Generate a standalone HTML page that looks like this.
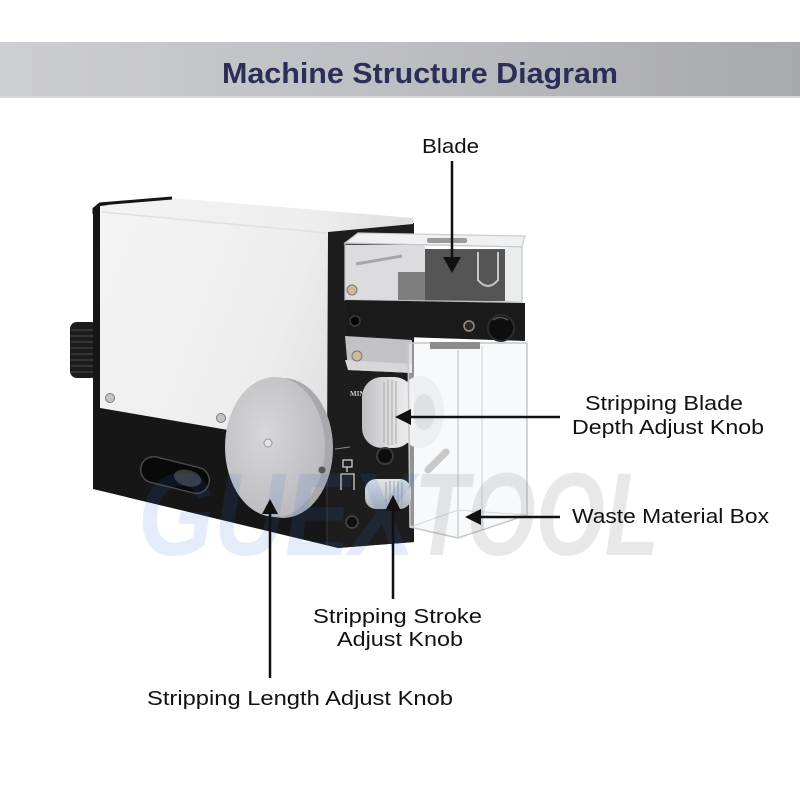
<!DOCTYPE html>
<html><head><meta charset="utf-8"><style>
html,body{margin:0;padding:0;background:#fff;}
svg{display:block}
</style></head><body>
<svg width="800" height="800" viewBox="0 0 800 800" xmlns="http://www.w3.org/2000/svg">
<defs>
<linearGradient id="hdr" x1="0" x2="1" y1="0" y2="0">
<stop offset="0" stop-color="#cdced1"/><stop offset="0.5" stop-color="#bdbec2"/><stop offset="1" stop-color="#a8a9ad"/>
</linearGradient>
<linearGradient id="face" x1="0" y1="0" x2="1" y2="0.3">
<stop offset="0" stop-color="#f4f4f4"/><stop offset="0.65" stop-color="#ededed"/><stop offset="1" stop-color="#dcdcde"/>
</linearGradient>
<radialGradient id="disc" cx="0.4" cy="0.4" r="0.75">
<stop offset="0" stop-color="#d7d7d9"/><stop offset="1" stop-color="#b6b6ba"/>
</radialGradient>
<linearGradient id="micro" x1="0" x2="1" y1="0" y2="0">
<stop offset="0" stop-color="#bfbfc2"/><stop offset="0.5" stop-color="#dcdcde"/><stop offset="1" stop-color="#f0f0f0"/>
</linearGradient>
<linearGradient id="knob2" x1="0" x2="0" y1="0" y2="1">
<stop offset="0" stop-color="#e4e7ea"/><stop offset="1" stop-color="#aeb3b9"/>
</linearGradient>
</defs>

<rect width="800" height="800" fill="#fff"/>

<!-- header -->
<rect x="0" y="42" width="800" height="56" fill="url(#hdr)"/>
<rect x="0" y="96" width="800" height="2" fill="#d6d7d9"/>
<text x="420" y="83" font-family="Liberation Sans, sans-serif" font-weight="bold" font-size="29" fill="#2b2e57" text-anchor="middle" textLength="396" lengthAdjust="spacingAndGlyphs">Machine Structure Diagram</text>

<!-- left side knob -->
<rect x="70" y="322" width="28" height="56" rx="7" fill="#1c1c1c"/>
<g stroke="#3c3c3c" stroke-width="1.5">
<line x1="71" y1="330" x2="96" y2="330"/><line x1="71" y1="336" x2="96" y2="336"/>
<line x1="71" y1="342" x2="96" y2="342"/><line x1="71" y1="348" x2="96" y2="348"/>
<line x1="71" y1="354" x2="96" y2="354"/><line x1="71" y1="360" x2="96" y2="360"/>
<line x1="71" y1="366" x2="96" y2="366"/><line x1="71" y1="372" x2="96" y2="372"/>
</g>

<!-- machine silhouette -->
<polygon points="93,210 100,204 328,232 414,223 414,542 338,548 93,489" fill="#161616"/>
<polygon points="327,232 414,223 414,542 338,548 327,545" fill="#1d1d1d"/>
<line x1="327" y1="232" x2="327" y2="545" stroke="#2e2e2e" stroke-width="1.5"/>

<!-- white body (top + side face) -->
<polygon points="100,206 172,198 413,218 413,224 328,232 327,447 100,408" fill="url(#face)"/>
<line x1="102" y1="212" x2="327" y2="233" stroke="#e0e0e2" stroke-width="1.5"/>
<polyline points="94,214 94,209 100,204 172,198" fill="none" stroke="#151515" stroke-width="3"/>

<!-- screws -->
<circle cx="110" cy="398" r="4.5" fill="#c4c4c4" stroke="#7a7a7a"/>
<circle cx="221" cy="418" r="4.5" fill="#c4c4c4" stroke="#7a7a7a"/>

<!-- slot -->
<g transform="rotate(14 175 475)">
<rect x="140" y="462" width="70" height="26" rx="13" fill="#090909" stroke="#4a4a4a" stroke-width="1.5"/>
<ellipse cx="188" cy="475" rx="14" ry="8" fill="#3a3a3a"/>
</g>

<!-- disc -->
<ellipse cx="283" cy="448" rx="50" ry="70" fill="#a9a9ad"/>
<ellipse cx="275" cy="447" rx="50" ry="70" fill="url(#disc)"/>
<circle cx="268" cy="443" r="4" fill="#e2e2e2" stroke="#999"/>
<circle cx="322" cy="470" r="3.5" fill="#555"/>

<!-- front panel details -->
<text x="350" y="396" font-family="Liberation Serif, serif" font-size="7" fill="#cfcfcf" font-weight="bold">MIN</text>
<line x1="335" y1="449" x2="350" y2="447" stroke="#888" stroke-width="1"/>
<g stroke="#cfcfcf" stroke-width="1.3" fill="none">
<rect x="343" y="460" width="9" height="7"/>
<line x1="347" y1="467" x2="347" y2="472"/>
<path d="M341 490 V474 H354 V490"/>
</g>
<circle cx="352" cy="522" r="6" fill="#111" stroke="#4a4a4a" stroke-width="1.5"/>

<!-- silver bracket below bar -->
<polygon points="345,336 412,340 412,373 348,370" fill="#c2c2c4"/>
<polygon points="345,360 412,364 412,373 348,370" fill="#d7d7d9"/>
<circle cx="357" cy="356" r="5" fill="#cdb99a" stroke="#777"/>

<!-- micrometer -->
<ellipse cx="420" cy="412" rx="24" ry="36" fill="#e8e8e8"/>
<ellipse cx="424" cy="412" rx="11" ry="18" fill="#c8c8ca"/>
<rect x="362" y="377" width="52" height="71" rx="20" fill="url(#micro)"/>
<g stroke="#a8a8aa" stroke-width="1">
<line x1="384" y1="382" x2="384" y2="443"/><line x1="388" y1="380" x2="388" y2="445"/>
<line x1="392" y1="380" x2="392" y2="445"/><line x1="396" y1="381" x2="396" y2="444"/>
</g>
<circle cx="385" cy="456" r="8" fill="#0d0d0d" stroke="#3a3a3a" stroke-width="2"/>

<!-- stroke knob -->
<rect x="365" y="479" width="46" height="30" rx="11" fill="url(#knob2)"/>
<g stroke="#9aa0a6" stroke-width="1">
<line x1="386" y1="482" x2="386" y2="506"/><line x1="390" y1="481" x2="390" y2="507"/>
<line x1="394" y1="481" x2="394" y2="507"/><line x1="398" y1="481" x2="398" y2="507"/>
<line x1="402" y1="482" x2="402" y2="506"/>
</g>

<!-- upper clear box internals -->
<rect x="345" y="245" width="80" height="56" fill="#d3d3d5"/>
<line x1="356" y1="264" x2="402" y2="256" stroke="#8e8e8e" stroke-width="3"/>
<rect x="398" y="272" width="30" height="29" fill="#5a5a5c"/>
<rect x="425" y="249" width="80" height="52" fill="#262626"/>
<path d="M478 252 V280 Q488 292 498 280 V252" fill="none" stroke="#b8b8b8" stroke-width="2"/>
<rect x="505" y="248" width="17" height="53" fill="#e4e6e8"/>
<polygon points="345,243 358,233 525,236 522,247" fill="#eef0f2" stroke="#c8cbd0" stroke-width="1.2"/>
<polygon points="345,243 522,247 522,302 345,300" fill="#ffffff" fill-opacity="0.22" stroke="#c2c5ca" stroke-width="1.2"/>
<rect x="427" y="238" width="40" height="5" rx="2" fill="#9a9a9a"/>
<circle cx="352" cy="290" r="5" fill="#cdb99a" stroke="#777"/>

<!-- black bar -->
<polygon points="345,300 525,303 525,341 345,335" fill="#1a1a1a"/>
<circle cx="355" cy="321" r="5" fill="#050505" stroke="#3a3a3a" stroke-width="1.5"/>
<circle cx="469" cy="326" r="5" fill="#2a2a2a" stroke="#9a8f80" stroke-width="1.5"/>
<circle cx="501" cy="328" r="13" fill="#0e0e0e" stroke="#2c2c2c" stroke-width="2"/>
<path d="M493 320 Q500 315 508 320" fill="none" stroke="#555" stroke-width="1.5"/>

<!-- waste box -->
<polygon points="408,343 527,343 527,515 458,538 410,527" fill="#f2f4f6" fill-opacity="0.55" stroke="#c3c7cc" stroke-width="1.5"/>
<rect x="430" y="342" width="50" height="7" fill="#8c8c8c"/>
<line x1="458" y1="350" x2="458" y2="538" stroke="#cfd3d8" stroke-width="1.5"/>
<line x1="482" y1="346" x2="482" y2="530" stroke="#d4d7db" stroke-width="1.2"/>
<line x1="410" y1="527" x2="458" y2="510" stroke="#d4d7db" stroke-width="1"/>
<line x1="458" y1="510" x2="527" y2="515" stroke="#d4d7db" stroke-width="1"/>
<path d="M428 470 L446 452" stroke="#c8c8ca" stroke-width="7" stroke-linecap="round"/>

<!-- watermark -->
<text x="138" y="555" font-family="Liberation Sans, sans-serif" font-weight="bold" font-style="italic" font-size="118" fill="#2f6fd6" fill-opacity="0.13" textLength="277" lengthAdjust="spacingAndGlyphs">GUEX</text>
<text x="414" y="555" font-family="Liberation Sans, sans-serif" font-weight="bold" font-style="italic" font-size="118" fill="#808080" fill-opacity="0.18" textLength="245" lengthAdjust="spacingAndGlyphs">TOOL</text>

<!-- connectors -->
<g stroke="#111" stroke-width="2.5">
<line x1="452" y1="161" x2="452" y2="259"/>
<line x1="409" y1="417" x2="560" y2="417"/>
<line x1="479" y1="517" x2="560" y2="517"/>
<line x1="393" y1="509" x2="393" y2="599"/>
<line x1="270" y1="512" x2="270" y2="678"/>
</g>
<g fill="#111">
<polygon points="443,257 461,257 452,273"/>
<polygon points="395,417 411,409 411,425"/>
<polygon points="465,517 481,509 481,525"/>
<polygon points="393,495 385,511 401,511"/>
<polygon points="270,499 262,514 278,514"/>
</g>

<!-- labels -->
<g font-family="Liberation Sans, sans-serif" font-size="20" fill="#111">
<text x="422" y="153" textLength="57" lengthAdjust="spacingAndGlyphs">Blade</text>
<text x="585" y="410" textLength="158" lengthAdjust="spacingAndGlyphs">Stripping Blade</text>
<text x="572" y="434" textLength="192" lengthAdjust="spacingAndGlyphs">Depth Adjust Knob</text>
<text x="572" y="523" textLength="197" lengthAdjust="spacingAndGlyphs">Waste Material Box</text>
<text x="313" y="623" textLength="169" lengthAdjust="spacingAndGlyphs">Stripping Stroke</text>
<text x="337" y="646" textLength="126" lengthAdjust="spacingAndGlyphs">Adjust Knob</text>
<text x="147" y="705" textLength="306" lengthAdjust="spacingAndGlyphs">Stripping Length Adjust Knob</text>
</g>
</svg>
</body></html>
